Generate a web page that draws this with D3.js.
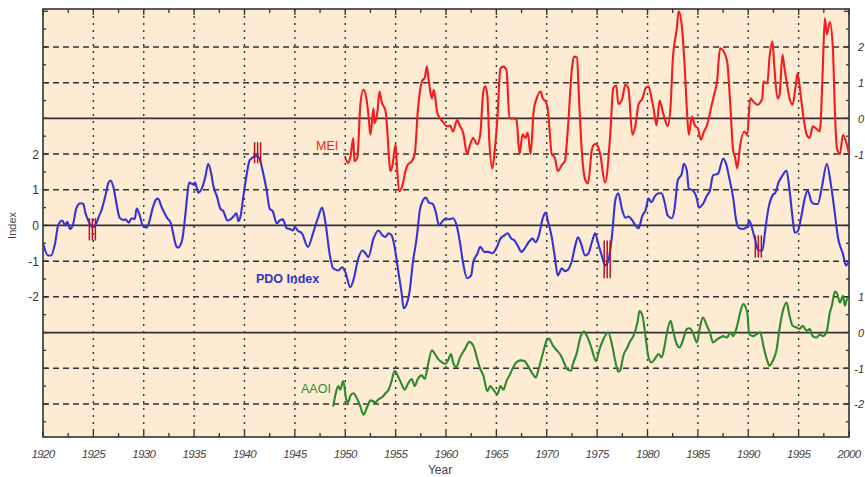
<!DOCTYPE html>
<html><head><meta charset="utf-8">
<script src="https://cdn.jsdelivr.net/npm/d3@7"></script>
<style>html,body{margin:0;padding:0;background:#fff;}svg{display:block;}</style>
</head><body>
<script>
// ---- data ----
const pdoYears = [1920.0,1920.5,1920.8,1921.2,1921.5,1921.9,1922.2,1922.4,1922.7,1923.0,1923.3,1923.7,1924.0,1924.2,1924.5,1924.9,1925.2,1925.5,1925.8,1926.2,1926.5,1926.7,1927.0,1927.3,1927.6,1928.0,1928.2,1928.5,1928.8,1929.1,1929.3,1929.6,1929.9,1930.3,1930.5,1930.9,1931.2,1931.4,1931.8,1932.3,1932.7,1932.9,1933.2,1933.4,1933.8,1934.1,1934.3,1934.5,1934.9,1935.1,1935.4,1935.8,1936.1,1936.4,1936.7,1936.9,1937.3,1937.6,1937.9,1938.3,1938.6,1938.9,1939.2,1939.4,1939.6,1939.9,1940.2,1940.5,1940.8,1941.2,1941.5,1941.8,1942.2,1942.5,1942.8,1943.2,1943.5,1943.8,1944.2,1944.5,1944.8,1945.0,1945.3,1945.7,1946.3,1946.8,1947.3,1947.7,1948.0,1948.5,1948.8,1949.3,1949.7,1950.0,1950.5,1950.8,1951.3,1951.7,1952.0,1952.3,1952.8,1953.3,1953.7,1954.0,1954.3,1954.6,1954.9,1955.2,1955.6,1955.8,1956.1,1956.4,1956.7,1957.1,1957.4,1957.7,1958.0,1958.3,1958.7,1959.0,1959.3,1959.6,1960.0,1960.3,1960.7,1961.1,1961.4,1961.7,1962.1,1962.5,1962.7,1963.1,1963.4,1963.8,1964.2,1964.6,1965.0,1965.4,1965.8,1966.1,1966.5,1966.8,1967.1,1967.5,1967.8,1968.2,1968.6,1968.9,1969.2,1969.6,1969.9,1970.1,1970.5,1970.8,1971.1,1971.5,1971.8,1972.1,1972.5,1972.8,1973.1,1973.4,1973.8,1974.1,1974.5,1974.8,1975.1,1975.5,1975.8,1976.1,1976.5,1976.8,1977.1,1977.5,1977.8,1978.1,1978.5,1978.8,1979.1,1979.5,1979.8,1980.1,1980.4,1980.7,1981.1,1981.4,1981.7,1982.0,1982.4,1982.7,1983.0,1983.4,1983.6,1983.9,1984.1,1984.5,1984.9,1985.1,1985.5,1985.9,1986.2,1986.5,1987.0,1987.5,1987.8,1988.1,1988.5,1988.8,1989.1,1989.5,1989.9,1990.1,1990.4,1990.7,1991.0,1991.4,1991.7,1992.0,1992.4,1992.7,1993.0,1993.4,1993.8,1994.1,1994.4,1994.6,1994.9,1995.3,1995.6,1995.9,1996.3,1996.6,1996.9,1997.3,1997.8,1998.2,1998.6,1998.9,1999.4,1999.7,2000.0];
const pdoValues = [-0.5,-0.84,-0.84,-0.5,0,0.14,0,0.1,-0.1,0.05,0.47,0.62,0.6,0.36,0.14,-0.05,0,0.22,0.42,0.84,1.2,1.26,1.06,0.6,0.22,0.15,0.17,0.08,0.2,0.18,0.47,0.28,0,-0.06,0.06,0.5,0.72,0.75,0.5,0.22,0.06,-0.2,-0.56,-0.62,-0.42,0.22,0.78,1.2,1.15,1.2,0.92,1.06,1.34,1.73,1.45,1.12,0.78,0.47,0.4,0.14,0.17,0.25,0.34,0.12,0.25,0.84,1.4,1.82,1.9,1.95,1.87,1.54,0.98,0.47,0.4,0.06,0.14,0.17,-0.08,-0.1,-0.14,-0.05,-0.15,-0.22,-0.6,-0.22,0.22,0.5,0.14,-0.88,-1.2,-1.26,-1.17,-1.3,-1.73,-1.54,-0.92,-0.7,-0.78,-0.88,-0.37,-0.14,-0.28,-0.32,-0.22,-0.28,-0.6,-1.17,-1.9,-2.32,-2.2,-1.82,-1.06,-0.33,0.42,0.7,0.78,0.64,0.6,0.36,0,0.1,0.2,0.17,0.2,-0.05,-0.5,-1.06,-1.48,-1.4,-1.03,-0.8,-0.6,-0.74,-0.74,-0.78,-0.64,-0.37,-0.28,-0.22,-0.37,-0.42,-0.56,-0.74,-0.65,-0.47,-0.37,-0.47,-0.3,0.2,0.36,0.14,-0.33,-0.88,-1.4,-1.2,-1.28,-1.24,-0.98,-0.6,-0.33,-0.5,-0.84,-0.8,-0.45,-0.22,-0.5,-0.88,-1.12,-1.0,-0.22,0.7,0.9,0.42,0.22,0.25,0.14,0,-0.08,0.28,0.42,0.75,0.65,0.8,0.9,0.9,0.65,0.28,0.2,0.5,1.26,1.45,1.73,1.54,1.03,0.98,0.75,0.5,0.6,0.84,0.98,1.4,1.45,1.87,1.73,1.35,0.78,0.14,-0.08,-0.1,-0.03,0.14,-0.1,-0.42,-0.7,-0.7,-0.1,0.47,0.84,0.92,1.2,1.4,1.54,0.98,0.22,-0.2,-0.17,0.3,0.75,0.98,0.65,0.6,0.6,1.06,1.73,1.15,0.33,-0.33,-0.8,-1.12,-1.0];

const meiYears = [1950.0,1950.3,1950.5,1950.8,1950.9,1951.2,1951.5,1951.8,1952.1,1952.3,1952.5,1952.8,1952.9,1953.2,1953.4,1953.6,1954.0,1954.1,1954.5,1954.7,1955.0,1955.1,1955.4,1955.7,1956.0,1956.2,1956.6,1956.9,1957.2,1957.6,1957.9,1958.1,1958.3,1958.6,1958.8,1959.1,1959.4,1959.7,1960.1,1960.4,1960.7,1961.1,1961.4,1961.7,1962.1,1962.4,1962.7,1963.1,1963.4,1963.7,1963.9,1964.1,1964.3,1964.6,1964.8,1965.1,1965.4,1965.7,1966.0,1966.3,1966.7,1967.0,1967.3,1967.6,1967.9,1968.1,1968.4,1968.7,1969.0,1969.4,1969.6,1969.9,1970.1,1970.5,1970.8,1971.1,1971.5,1971.8,1972.1,1972.5,1972.7,1973.0,1973.2,1973.5,1973.8,1974.1,1974.5,1974.8,1975.1,1975.3,1975.8,1976.3,1976.6,1976.9,1977.1,1977.5,1977.8,1978.1,1978.5,1978.8,1979.1,1979.5,1979.8,1980.1,1980.4,1980.6,1980.9,1981.2,1981.5,1981.7,1982.0,1982.3,1982.5,1982.9,1983.1,1983.4,1983.7,1983.9,1984.1,1984.4,1984.7,1985.0,1985.3,1985.6,1985.9,1986.3,1986.6,1986.9,1987.2,1987.5,1987.9,1988.2,1988.5,1988.7,1988.9,1989.2,1989.6,1989.9,1990.2,1990.5,1990.9,1991.4,1991.5,1991.9,1992.1,1992.4,1992.6,1992.9,1993.1,1993.4,1993.6,1993.8,1994.1,1994.4,1994.7,1994.9,1995.2,1995.4,1995.8,1996.1,1996.4,1996.8,1997.1,1997.4,1997.6,1997.8,1998.1,1998.4,1998.6,1998.8,1999.1,1999.4,1999.7,2000.0];
const meiValues = [-1.1,-1.25,-1.1,-0.55,-1.2,-1.1,0.38,0.8,0.56,0.1,-0.46,0.28,-0.14,0.2,0.75,0.47,0.2,-0.08,-1.48,-1.3,-0.73,-1.2,-2.04,-1.85,-1.45,-1.3,-1.2,-1.0,0.2,1.03,1.15,1.45,1.03,0.56,0.8,0.2,0.0,-0.1,-0.22,-0.2,-0.37,-0.05,-0.22,-0.4,-1.0,-0.73,-0.55,-0.73,-0.45,0.75,0.9,0.65,-0.64,-1.4,-1.0,0,1.4,1.45,1.35,0,0,-0.05,-1.0,-0.45,-0.55,-0.4,-1.0,0.2,0.56,0.75,0.56,0.47,0.28,-1.0,-1.1,-1.48,-1.3,-1.2,-0.28,1.4,1.73,1.7,0.56,-1.0,-1.7,-1.82,-0.85,-0.72,-0.8,-1.0,-1.8,-0.46,0.84,0.92,0.4,0.56,0.95,0.84,-0.46,-0.2,0.38,0.56,0.84,0.9,0.56,0.28,-0.2,0.5,0.2,0,-0.22,0.38,1.6,2.5,3.0,2.6,1.4,0.28,-0.46,0.05,-0.2,-0.28,-0.6,-0.37,-0.2,0.28,0.65,1.03,1.96,1.9,1.6,0.47,-0.9,-1.1,-1.4,-0.75,-0.37,-0.46,0.56,0.47,0.38,0.56,1.03,0.98,1.68,2.15,1.4,0.56,0.65,1.78,1.4,1.03,0.56,0.38,0.9,1.26,0.65,0.2,-0.46,-0.55,-0.22,-0.3,-0.37,1.4,2.8,2.35,2.7,1.96,0.2,-0.84,-1.0,-0.46,-0.65,-1.0];

const aaoiYears = [1948.8,1949.0,1949.3,1949.5,1949.8,1950.1,1950.3,1950.5,1950.8,1951.2,1951.5,1951.8,1952.2,1952.5,1953.0,1953.3,1953.7,1954.0,1954.3,1954.6,1954.9,1955.2,1955.6,1955.9,1956.2,1956.6,1956.9,1957.2,1957.6,1957.9,1958.2,1958.6,1958.9,1959.2,1959.6,1959.9,1960.2,1960.5,1960.7,1961.0,1961.4,1961.9,1962.3,1962.7,1963.1,1963.4,1963.7,1964.1,1964.4,1964.7,1965.1,1965.4,1965.7,1966.0,1966.3,1966.6,1967.0,1967.4,1967.8,1968.1,1968.6,1968.9,1969.2,1969.6,1970.0,1970.2,1970.6,1971.0,1971.4,1971.7,1972.0,1972.4,1972.6,1973.0,1973.3,1973.7,1974.0,1974.4,1974.9,1975.2,1975.6,1976.1,1976.5,1976.8,1977.1,1977.3,1977.6,1978.0,1978.3,1978.6,1979.0,1979.2,1979.5,1979.8,1980.1,1980.4,1980.7,1981.1,1981.4,1981.7,1981.9,1982.3,1982.5,1982.9,1983.2,1983.5,1983.9,1984.2,1984.5,1984.9,1985.2,1985.5,1985.9,1986.2,1986.5,1986.9,1987.2,1987.5,1987.9,1988.2,1988.5,1988.9,1989.2,1989.5,1989.9,1990.1,1990.5,1990.8,1991.2,1991.5,1991.9,1992.1,1992.5,1992.8,1993.1,1993.4,1993.8,1994.1,1994.4,1994.8,1995.1,1995.4,1995.8,1996.1,1996.4,1996.8,1997.1,1997.4,1997.8,1998.1,1998.3,1998.6,1998.8,1999.1,1999.4,1999.6,1999.8,2000.0];
const aaoiValues = [-2.07,-1.78,-1.5,-1.6,-1.36,-1.87,-1.95,-1.78,-1.7,-1.87,-2.07,-2.3,-2.07,-1.9,-1.95,-1.87,-1.8,-1.7,-1.6,-1.36,-1.07,-1.2,-1.45,-1.6,-1.45,-1.3,-1.5,-1.3,-1.2,-1.3,-0.92,-0.5,-0.6,-0.74,-0.83,-0.88,-0.78,-0.6,-0.83,-0.97,-0.69,-0.45,-0.26,-0.36,-0.74,-1.02,-1.2,-1.64,-1.5,-1.6,-1.73,-1.5,-1.6,-1.36,-1.2,-1.02,-0.83,-0.78,-0.8,-0.92,-1.16,-1.26,-1.02,-0.6,-0.22,-0.17,-0.36,-0.5,-0.64,-0.83,-1.02,-1.07,-0.88,-0.55,-0.17,0.03,-0.1,-0.4,-0.8,-0.5,-0.2,0,-0.37,-0.8,-1.1,-1.05,-0.65,-0.42,-0.23,-0.1,0.28,0.6,0.47,-0.1,-0.7,-0.84,-0.75,-0.6,-0.7,-0.37,-0.05,0.33,0.1,-0.32,-0.42,-0.23,0.1,0.12,0,-0.28,0.14,0.42,0.19,0,-0.28,-0.19,-0.14,-0.1,-0.14,0,-0.1,0.19,0.56,0.8,0.56,-0.05,-0.1,-0.05,0,-0.37,-0.8,-0.93,-0.75,-0.5,0.1,0.56,0.84,0.47,0.19,0.14,0.1,0.19,0.05,0.1,-0.1,-0.14,-0.05,-0.1,0.05,0.56,0.75,1.15,1.1,0.84,1.03,0.75,0.93,0.93];

// red event markers on the PDO curve (year, low, high in PDO units)
const markerYears = [1924.9, 1941.3, 1976.0, 1991.0];
const markerLow   = [-0.42, 1.74, -1.48, -0.9];
const markerHigh  = [0.2, 2.33, -0.42, -0.28];

const xTickYears = [1920,1925,1930,1935,1940,1945,1950,1955,1960,1965,1970,1975,1980,1985,1990,1995,2000];
const pdoTicks = [2,1,0,-1,-2];
const meiTicks = [2,1,0,-1];
const aaoiTicks = [1,0,-1,-2];
const meiOffset = 3, pdoOffset = 0, aaoiOffset = -3;

// ---- layout ----
const W = 865, H = 477;
const L = 43, R = 849, T = 9, B = 437;
const svg = d3.select("body").append("svg").attr("width", W).attr("height", H);

const x = d3.scaleLinear().domain([1920, 2000]).range([L, R]);
const y = d3.scaleLinear().domain([-5.926, 6.063]).range([B, T]);

svg.append("rect").attr("x", L).attr("y", T).attr("width", R - L).attr("height", B - T).attr("fill", "#fdebd3");

svg.append("clipPath").attr("id", "clip").append("rect")
  .attr("x", L).attr("y", T).attr("width", R - L).attr("height", B - T);

// grid
const gridH = d3.range(-5, 6);
svg.append("g").selectAll("line").data(gridH).join("line")
  .attr("x1", L).attr("x2", R)
  .attr("y1", d => y(d)).attr("y2", d => y(d))
  .attr("stroke", "#333").attr("stroke-width", d => (d % 3 === 0) ? 1.7 : 1.5)
  .attr("stroke-dasharray", d => (d % 3 === 0) ? null : "6,4");

svg.append("g").selectAll("line").data(xTickYears.slice(1, -1)).join("line")
  .attr("x1", d => x(d)).attr("x2", d => x(d)).attr("y1", T).attr("y2", B)
  .attr("stroke", "#333").attr("stroke-width", 1.4).attr("stroke-dasharray", "2,5");

// ticks (inward)
const minorX = d3.range(1920, 2000.01, 2.5);
const tk = svg.append("g").attr("stroke", "#333").attr("stroke-width", 1.3);
minorX.forEach(yr => {
  const len = (yr % 5 === 0) ? 6 : 4;
  tk.append("line").attr("x1", x(yr)).attr("x2", x(yr)).attr("y1", B).attr("y2", B - len);
  tk.append("line").attr("x1", x(yr)).attr("x2", x(yr)).attr("y1", T).attr("y2", T + len);
});
const minorY = d3.range(-5.5, 6.01, 0.5);
minorY.forEach(v => {
  const len = Number.isInteger(v) ? 5 : 3;
  tk.append("line").attr("x1", L).attr("x2", L + len).attr("y1", y(v)).attr("y2", y(v));
  tk.append("line").attr("x1", R).attr("x2", R - len).attr("y1", y(v)).attr("y2", y(v));
});

svg.append("rect").attr("x", L).attr("y", T).attr("width", R - L).attr("height", B - T)
  .attr("fill", "none").attr("stroke", "#333").attr("stroke-width", 1.6);

// series
const plot = svg.append("g").attr("clip-path", "url(#clip)");
function drawSeries(years, values, offset, color) {
  const pts = years.map((yr, i) => [yr, values[i] + offset]);
  const line = d3.line().x(d => x(d[0])).y(d => y(d[1])).curve(d3.curveMonotoneX);
  plot.append("path").datum(pts).attr("d", line).attr("fill", "none")
    .attr("stroke", color).attr("stroke-width", 2.1).attr("stroke-linejoin", "round");
}
drawSeries(meiYears, meiValues, meiOffset, "#f41c1c");
drawSeries(aaoiYears, aaoiValues, aaoiOffset, "#2b8a2b");
drawSeries(pdoYears, pdoValues, pdoOffset, "#3434d6");

// markers
const mk = plot.append("g").attr("stroke", "#b3122a").attr("stroke-width", 1.5);
markerYears.forEach((yr, i) => {
  [-3, 0, 3].forEach(dx => {
    mk.append("line").attr("x1", x(yr) + dx).attr("x2", x(yr) + dx)
      .attr("y1", y(markerLow[i] + pdoOffset)).attr("y2", y(markerHigh[i] + pdoOffset));
  });
});

// axis labels
const font = "'Liberation Sans', Arial, sans-serif";
svg.append("g").selectAll("text").data(xTickYears).join("text")
  .attr("x", d => x(d)).attr("y", 458).attr("text-anchor", "middle")
  .attr("font-family", font).attr("font-size", 11.5).attr("font-style", "italic")
  .attr("letter-spacing", -0.6).attr("fill", "#444").text(d => d);

svg.append("g").selectAll("text").data(pdoTicks).join("text")
  .attr("x", 39).attr("y", d => y(d + pdoOffset) + 4.5).attr("text-anchor", "end")
  .attr("font-family", font).attr("font-size", 12).attr("fill", "#333").text(d => d);

svg.append("g").selectAll("text").data(meiTicks).join("text")
  .attr("x", 864).attr("y", d => y(d + meiOffset) + 4.5).attr("text-anchor", "end")
  .attr("font-family", font).attr("font-size", 11).attr("font-style", "italic").attr("fill", "#333").text(d => d);
svg.append("g").selectAll("text").data(aaoiTicks).join("text")
  .attr("x", 864).attr("y", d => y(d + aaoiOffset) + 4.5).attr("text-anchor", "end")
  .attr("font-family", font).attr("font-size", 11).attr("font-style", "italic").attr("fill", "#333").text(d => d);

svg.append("text").attr("transform", `translate(16,${y(0)}) rotate(-90)`).attr("text-anchor", "middle")
  .attr("font-family", font).attr("font-size", 11).attr("fill", "#444").text("Index");
svg.append("text").attr("x", 440).attr("y", 474).attr("text-anchor", "middle")
  .attr("font-family", font).attr("font-size", 12).attr("fill", "#444").text("Year");

// series labels
svg.append("text").attr("x", 316).attr("y", 150).attr("font-family", font).attr("font-size", 12.5)
  .attr("fill", "#e82525").text("MEI");
svg.append("text").attr("x", 256).attr("y", 283).attr("font-family", font).attr("font-size", 12.5)
  .attr("font-weight", "bold").attr("fill", "#3434c8").text("PDO Index");
svg.append("text").attr("x", 301).attr("y", 393).attr("font-family", font).attr("font-size", 12.5)
  .attr("fill", "#2b8a2b").text("AAOI");
</script>
</body></html>
